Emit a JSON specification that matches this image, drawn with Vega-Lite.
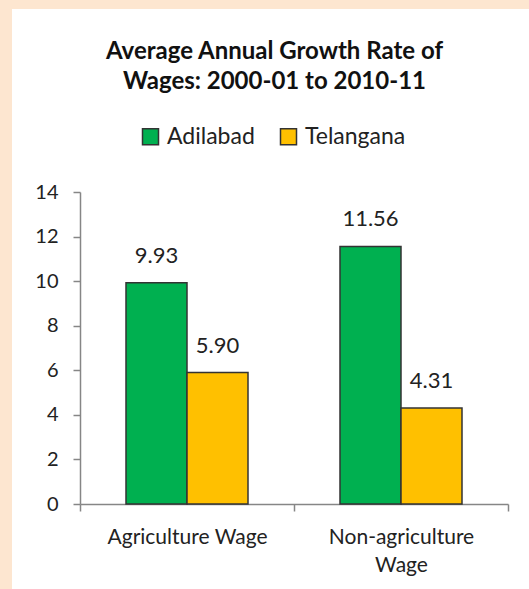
{
  "$schema": "https://vega.github.io/schema/vega-lite/v6.json",
  "width": 517,
  "height": 580,
  "autosize": {"type": "none"},
  "padding": {"left": 12, "top": 9, "right": 0, "bottom": 0},
  "background": "#FDE6D0",
  "config": {"view": {"fill": "white", "stroke": null}, "font": "Lato"},
  "title": {
    "text": ["Average Annual Growth Rate of", "Wages: 2000-01 to 2010-11"],
    "fontSize": 24,
    "fontWeight": "bold",
    "lineHeight": 30,
    "offset": -85,
    "anchor": "middle",
    "dx": 4,
    "color": "#111111",
    "font": "Lato"
  },
  "data": {
    "values": [
      {"category": "Agriculture Wage", "region": "Adilabad", "rate": 9.93},
      {"category": "Agriculture Wage", "region": "Telangana", "rate": 5.90},
      {"category": "Non-agriculture Wage", "region": "Adilabad", "rate": 11.56},
      {"category": "Non-agriculture Wage", "region": "Telangana", "rate": 4.31}
    ]
  },
  "encoding": {
    "x": {
      "field": "category",
      "type": "nominal",
      "sort": ["Agriculture Wage", "Non-agriculture Wage"],
      "scale": {"range": [68, 496], "paddingInner": 0, "paddingOuter": 0},
      "axis": {
        "title": null,
        "offset": -85,
        "tickBand": "extent",
        "domainColor": "#868686",
        "domainWidth": 1.5,
        "tickColor": "#868686",
        "tickWidth": 1.5,
        "tickSize": 7,
        "labelFontSize": 21,
        "labelColor": "#222222",
        "labelAngle": 0,
        "labelPadding": 15,
        "labelLineHeight": 28,
        "labelExpr": "datum.value == 'Non-agriculture Wage' ? ['Non-agriculture', 'Wage'] : datum.value"
      }
    },
    "xOffset": {
      "field": "region",
      "type": "nominal",
      "sort": ["Adilabad", "Telangana"],
      "scale": {"paddingInner": 0, "paddingOuter": 0.754}
    },
    "y": {
      "field": "rate",
      "type": "quantitative",
      "scale": {"domain": [0, 14], "range": [495, 183], "nice": false},
      "axis": {
        "title": null,
        "values": [0, 2, 4, 6, 8, 10, 12, 14],
        "offset": -68,
        "grid": false,
        "domainColor": "#868686",
        "domainWidth": 1.5,
        "tickColor": "#868686",
        "tickWidth": 1.5,
        "tickSize": 7,
        "labelFontSize": 20,
        "labelColor": "#222222",
        "labelPadding": 15
      }
    }
  },
  "layer": [
    {
      "mark": {"type": "bar", "stroke": "#333333", "strokeWidth": 1.5},
      "encoding": {
        "color": {
          "field": "region",
          "type": "nominal",
          "scale": {"domain": ["Adilabad", "Telangana"], "range": ["#00B050", "#FFC000"]},
          "legend": {
            "title": null,
            "orient": "none",
            "direction": "horizontal",
            "legendX": 127,
            "legendY": 116,
            "padding": 0,
            "symbolType": "square",
            "symbolSize": 256,
            "symbolStrokeColor": "#333333",
            "symbolStrokeWidth": 1.5,
            "symbolOpacity": 1,
            "labelFontSize": 23,
            "labelColor": "#222222",
            "labelOffset": 5,
            "columnPadding": 22
          }
        }
      }
    },
    {
      "mark": {"type": "text", "dy": -20, "baseline": "alphabetic", "fontSize": 22, "color": "#222222"},
      "encoding": {"text": {"field": "rate", "type": "quantitative", "format": ".2f"}}
    }
  ]
}
